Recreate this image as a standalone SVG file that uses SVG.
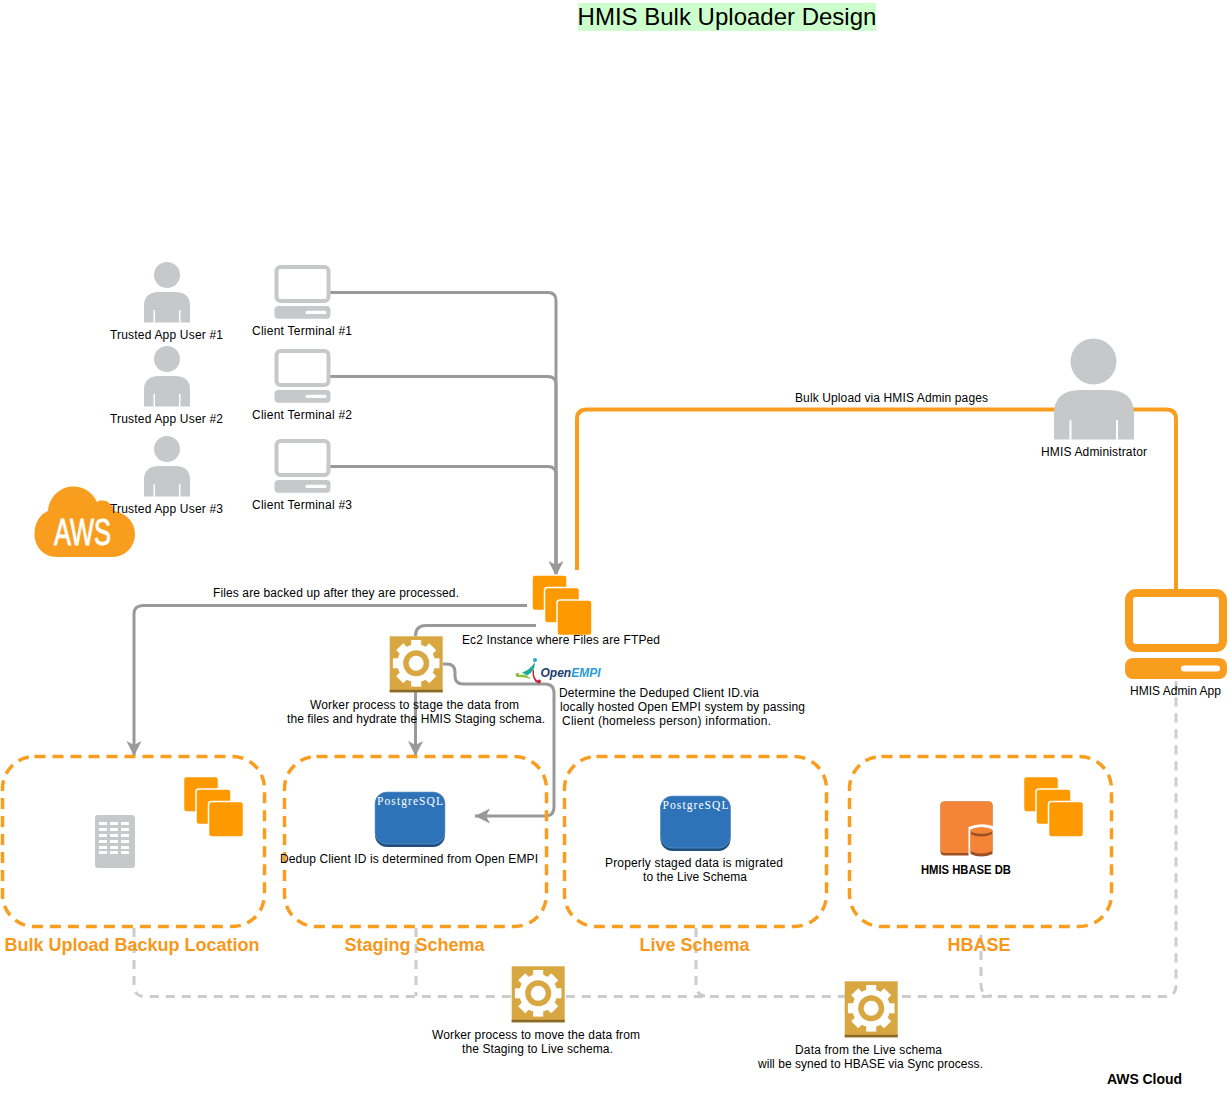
<svg xmlns="http://www.w3.org/2000/svg" xmlns:xlink="http://www.w3.org/1999/xlink" width="1229" height="1093" viewBox="0 0 1229 1093">
<style>
text{font-family:"Liberation Sans",Arial,sans-serif;font-size:12px;fill:#000;text-anchor:middle}
.head{font-size:18px;font-weight:bold;fill:#F7981D}
.left{text-anchor:start}
.grey{fill:none;stroke:#999;stroke-width:3}
.org{fill:none;stroke:#F99D1F;stroke-width:4}
.dash{fill:none;stroke:#CCC;stroke-width:3;stroke-dasharray:9 7}
.zone{fill:none;stroke:#F99D1F;stroke-width:3.5;stroke-dasharray:11 7}
</style>
<defs>
<marker id="arr" viewBox="0 0 16 16" refX="15" refY="8" markerWidth="16" markerHeight="16" markerUnits="userSpaceOnUse" orient="auto">
<path d="M0,0.5 L15,8 L0,15.5 L4,8 Z" fill="#999"/>
</marker>
<g id="person" fill="#C7C8CA">
<circle cx="23" cy="13" r="13"/>
<path d="M0,60.500 V44 Q0,30 15,30 H31 Q46,30 46,44 V60.500 H36.500 V48 H35 V60.500 H11 V48 H9.500 V60.500 Z"/>
</g>
<g id="terminal">
<rect x="2" y="2" width="52" height="34" rx="4" fill="#fff" stroke="#C7C8CA" stroke-width="4"/>
<rect x="0" y="41" width="56" height="12.700" rx="4" fill="#C7C8CA"/>
<rect x="31" y="45.700" width="21" height="3.300" rx="1.600" fill="#fff"/>
</g>
<g id="stack" fill="#FF9900" stroke="#fff" stroke-width="1.500">
<rect x="-0.500" y="-0.500" width="35" height="35.500" rx="3"/>
<rect x="12" y="12" width="35" height="35.500" rx="3"/>
<rect x="24.500" y="24.500" width="35" height="35.500" rx="3"/>
</g>
<g id="gear">
<rect width="53" height="56" fill="#D9A741"/>
<rect y="53.500" width="53" height="2.500" fill="#876929"/>
<g transform="translate(26.500,27)">
<g fill="#fff">
<circle r="19"/>
<rect x="-5" y="-23.300" width="10" height="8"/>
<rect x="-5" y="-23.300" width="10" height="8" transform="rotate(45)"/>
<rect x="-5" y="-23.300" width="10" height="8" transform="rotate(90)"/>
<rect x="-5" y="-23.300" width="10" height="8" transform="rotate(135)"/>
<rect x="-5" y="-23.300" width="10" height="8" transform="rotate(180)"/>
<rect x="-5" y="-23.300" width="10" height="8" transform="rotate(225)"/>
<rect x="-5" y="-23.300" width="10" height="8" transform="rotate(270)"/>
<rect x="-5" y="-23.300" width="10" height="8" transform="rotate(315)"/>
</g>
<circle r="13" fill="#D9A741"/>
<circle r="7.500" fill="#fff"/>
</g>
</g>
<g id="pg">
<rect y="0" width="70" height="55" rx="12" fill="#205081"/>
<rect y="0" width="70" height="52" rx="12" fill="#2E73B8" stroke="#6C9CCB" stroke-width="0.600"/>
<text x="35" y="13" textLength="66" style="font-family:'Liberation Serif',serif;font-size:11.500px;fill:#fff">PostgreSQL</text>
</g>
</defs>

<rect x="578" y="3" width="298" height="28" fill="#CCFFCC"/>
<text x="727" y="25" style="font-size:24px">HMIS Bulk Uploader Design</text>

<g id="connectors">
<path class="grey" d="M330,292.500 H548 Q556,292.500 556,300.500 V576" marker-end="url(#arr)"/>
<path class="grey" d="M330,376.500 H548 Q556,376.500 556,384.500 V576"/>
<path class="grey" d="M330,466.500 H548 Q556,466.500 556,474.500 V576"/>
<path class="org" d="M577,570 V419 Q577,409.500 587,409.500 H1166 Q1176,409.500 1176,419 V589"/>
<path class="grey" d="M527,605.500 H143 Q134,605.500 134,614 V756" marker-end="url(#arr)"/>
<path class="grey" d="M536,625.500 H426 Q415.500,625.500 415.500,636"/>
<path class="grey" d="M415.500,690 V756" marker-end="url(#arr)"/>
<path class="grey" d="M443,664 H447 Q455,664 455,672 V676 Q455,684 463,684 H545 Q554,684 554,693 V807 Q554,816 545,816 H475" marker-end="url(#arr)"/>
<path class="dash" d="M134,928 V985 Q134,996.500 145,996.500 H1165 Q1176,996.500 1176,985 V680"/>
<path class="dash" d="M416,928 V996"/>
<path class="dash" d="M696,928 V985 Q696,996 707,996"/>
<path class="dash" d="M981,935 V985 Q981,996 992,996"/>
</g>

<g id="zone-backup">
<rect class="zone" x="2.500" y="756.500" width="262" height="170" rx="32"/>
<text class="head" x="132" y="951">Bulk Upload Backup Location</text>
<rect x="95" y="815" width="40" height="53" rx="3" fill="#C7C8CA"/>
<g fill="#fff">
<rect x="99" y="822" width="8" height="3"/><rect x="110" y="822" width="8" height="3"/><rect x="121" y="822" width="8" height="3"/>
<rect x="99" y="828" width="8" height="3"/><rect x="110" y="828" width="8" height="3"/><rect x="121" y="828" width="8" height="3"/>
<rect x="99" y="834" width="8" height="3"/><rect x="110" y="834" width="8" height="3"/><rect x="121" y="834" width="8" height="3"/>
<rect x="99" y="840" width="8" height="3"/><rect x="110" y="840" width="8" height="3"/><rect x="121" y="840" width="8" height="3"/>
<rect x="99" y="846" width="8" height="3"/><rect x="110" y="846" width="8" height="3"/><rect x="121" y="846" width="8" height="3"/>
<rect x="99" y="851" width="8" height="3"/><rect x="110" y="851" width="8" height="3"/><rect x="121" y="851" width="8" height="3"/>
</g>
<use xlink:href="#stack" href="#stack" x="184" y="777"/>
</g>

<g id="zone-staging">
<rect class="zone" x="284.500" y="756.500" width="262" height="170" rx="32"/>
<text class="head" x="414.500" y="951">Staging Schema</text>
<use xlink:href="#pg" href="#pg" x="375" y="792"/>
<text x="409" y="863" textLength="258">Dedup Client ID is determined from Open EMPI</text>
</g>

<g id="zone-live">
<rect class="zone" x="564.500" y="756.500" width="262" height="170" rx="32"/>
<text class="head" x="694.500" y="951">Live Schema</text>
<use xlink:href="#pg" href="#pg" x="660.500" y="796"/>
<text x="694" y="867" textLength="178">Properly staged data is migrated</text>
<text x="695" y="881" textLength="104">to the Live Schema</text>
</g>

<g id="zone-hbase">
<rect class="zone" x="849.500" y="756.500" width="262" height="170" rx="32"/>
<text class="head" x="979" y="951">HBASE</text>
<rect x="940.500" y="801.500" width="52" height="54" rx="4" fill="#9D5025"/>
<rect x="940.500" y="801.500" width="52" height="51.500" rx="4" fill="#F58536"/>
<path d="M968.500,858 V827 Q980,822 993,826 V858 Z" fill="#fff"/>
<path d="M970.500,830 Q981,825 992.500,830 V854 Q981,859 970.500,854 Z" fill="#9D5025"/>
<path d="M970.500,834 Q981,839 992.500,834 V851 Q981,856 970.500,851 Z" fill="#F58536"/>
<ellipse cx="981.500" cy="830.500" rx="11" ry="3.200" fill="#F58536"/>
<text x="966" y="874" textLength="90" lengthAdjust="spacingAndGlyphs" style="font-weight:bold">HMIS HBASE DB</text>
<use xlink:href="#stack" href="#stack" x="1024" y="777"/>
</g>

<g id="user1"><use xlink:href="#person" href="#person" x="144" y="262"/><text x="166.500" y="339" textLength="113">Trusted App User #1</text></g>
<g id="user2"><use xlink:href="#person" href="#person" x="144" y="346"/><text x="166.500" y="423" textLength="113">Trusted App User #2</text></g>
<g id="user3"><use xlink:href="#person" href="#person" x="144" y="436"/></g>
<g id="aws">
<path d="M57,557 C43,557 34.500,546 34.500,534 C34.500,523 40,514 48,511 C49,497 60,486.500 73,486.500 C84,486.500 92,492 97,502 C100,500 106,500 109,503 C113,506 114,509 114,511 C126,513 135,522 135,534 C135,547 125,557 112,557 Z" fill="#F99D1F"/>
<text x="82.500" y="544.500" textLength="57" lengthAdjust="spacingAndGlyphs" style="font-size:37px;fill:#fff;stroke:#fff;stroke-width:0.900">AWS</text>
</g>
<text id="user3-label" x="166.500" y="513" textLength="113">Trusted App User #3</text>

<g id="terminal1"><use xlink:href="#terminal" href="#terminal" x="274.500" y="265"/><text x="302" y="335" textLength="100">Client Terminal #1</text></g>
<g id="terminal2"><use xlink:href="#terminal" href="#terminal" x="274.500" y="349"/><text x="302" y="419" textLength="100">Client Terminal #2</text></g>
<g id="terminal3"><use xlink:href="#terminal" href="#terminal" x="274.500" y="439"/><text x="302" y="509" textLength="100">Client Terminal #3</text></g>

<text x="336" y="597" textLength="246">Files are backed up after they are processed.</text>

<g id="ec2"><use xlink:href="#stack" href="#stack" x="532.500" y="575.500"/><text x="561" y="644" textLength="198">Ec2 Instance where Files are FTPed</text></g>

<g id="worker1"><use xlink:href="#gear" href="#gear" x="389.700" y="636.300"/>
<text x="414.500" y="709" textLength="209">Worker process to stage the data from</text>
<text x="416" y="723" textLength="258">the files and hydrate the HMIS Staging schema.</text></g>

<g id="openempi">
<path d="M522,672.500 Q530,670 535,662 Q535,672 527,675.500 Z" fill="#1FA99A"/>
<path d="M518,676 Q524,672 531,679 Q525,677 518,677 Z" fill="#8CBF3F"/>
<path d="M534,670 Q533,678 539,682 L536,682.500 Q531,676 533,670 Z" fill="#C2263A"/>
<circle cx="535" cy="660" r="2" fill="#27A9C9"/>
<circle cx="517.500" cy="675" r="2" fill="#8CBF3F"/>
<circle cx="539" cy="681.500" r="2" fill="#C2263A"/>
<text class="left" x="540.500" y="677" textLength="60" lengthAdjust="spacingAndGlyphs" style="font-size:13px;font-weight:bold;font-style:italic;fill:#1B3C6E">Open<tspan fill="#2A9BD8">EMPI</tspan></text>
<text class="left" x="559" y="697" textLength="200">Determine the Deduped Client ID.via</text>
<text class="left" x="560" y="711" textLength="245">locally hosted Open EMPI system by passing</text>
<text class="left" x="562" y="725" textLength="209">Client (homeless person) information.</text>
</g>

<g id="admin">
<circle cx="1093.500" cy="361.500" r="23" fill="#C7C8CA"/>
<path d="M1054,439.500 V414 Q1054,390 1080,390 H1108 Q1134,390 1134,414 V439.500 H1118 V420 H1116 V439.500 H1071.500 V420 H1069.500 V439.500 Z" fill="#C7C8CA"/>
<text x="1094" y="456" textLength="106">HMIS Administrator</text>
</g>
<text x="891.500" y="402" textLength="193">Bulk Upload via HMIS Admin pages</text>

<g id="adminapp">
<rect x="1129" y="593" width="94" height="55" rx="7" fill="#fff" stroke="#F99D1F" stroke-width="8"/>
<rect x="1125" y="658" width="102" height="21" rx="8" fill="#F99D1F"/>
<rect x="1181" y="665.500" width="39" height="6" rx="3" fill="#fff"/>
<text x="1175.500" y="695" textLength="91">HMIS Admin App</text>
</g>

<g id="worker2"><use xlink:href="#gear" href="#gear" x="511.700" y="966.300"/>
<text x="536" y="1039" textLength="208">Worker process to move the data from</text>
<text x="537.500" y="1053" textLength="151">the Staging to Live schema.</text></g>
<g id="worker3"><use xlink:href="#gear" href="#gear" x="844.700" y="981.300"/>
<text x="868.500" y="1054" textLength="147">Data from the Live schema</text>
<text x="870.500" y="1068" textLength="225">will be syned to HBASE via Sync process.</text></g>

<text x="1144.500" y="1084" textLength="75" style="font-weight:bold;font-size:14px">AWS Cloud</text>
</svg>
